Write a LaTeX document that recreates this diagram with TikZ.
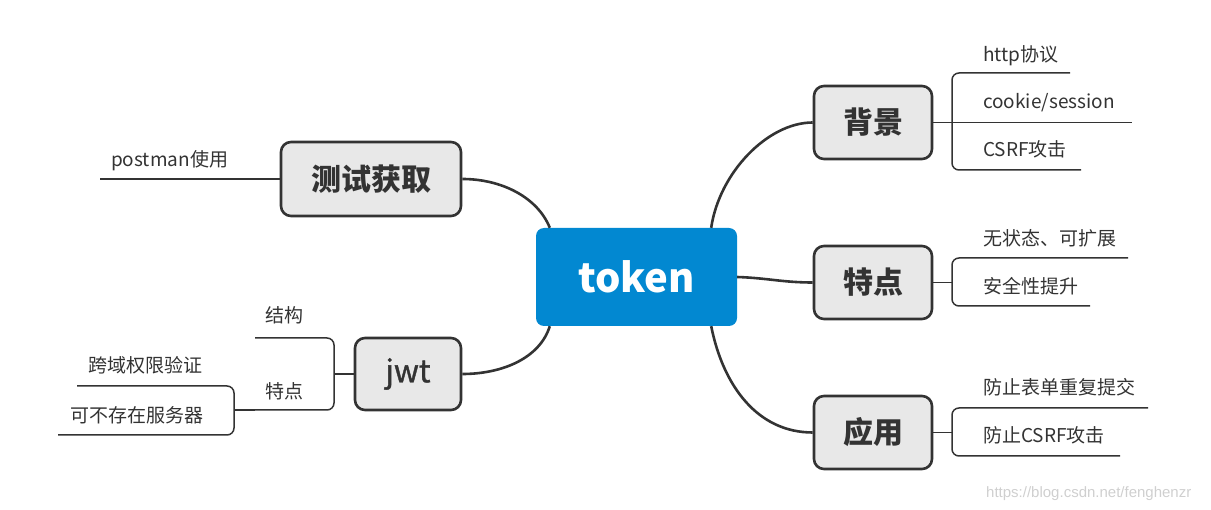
\documentclass[tikz,border=0pt]{standalone}
\usepackage{fontspec}
\setmainfont{Noto Sans CJK SC}
\newfontfamily\wmfont{Liberation Sans}
\newfontfamily\medfont[FakeBold=1.2]{Noto Sans CJK SC}
\definecolor{tokblue}{HTML}{0288D1}
\definecolor{topicfill}{HTML}{E8E8E8}
\definecolor{edgecol}{HTML}{333333}
\definecolor{leafcol}{HTML}{333333}
\definecolor{wmcol}{HTML}{CFCFCF}
\tikzset{
  central/.style={draw=none, fill=tokblue, rounded corners=8pt, minimum width=201pt, minimum height=98pt, text=white, font=\fontsize{40}{44}\selectfont\bfseries, inner sep=0pt},
  topic/.style={draw=edgecol, line width=2.6pt, fill=topicfill, rounded corners=10pt, text=edgecol, inner sep=0pt},
  topicbold/.style={topic, font=\fontsize{30}{34}\selectfont\bfseries},
  branch/.style={draw=edgecol, line width=2.6pt},
  leafline/.style={draw=leafcol, line width=1.5pt, rounded corners=7pt},
  leaf/.style={text=leafcol, font=\fontsize{19}{22}\selectfont, inner sep=0pt, anchor=base west},
  wm/.style={text=wmcol, font=\wmfont\fontsize{15}{17}\selectfont, inner sep=0pt, anchor=base west}
}
\begin{document}
\begin{tikzpicture}[x=1pt,y=-1pt]
\useasboundingbox (0,0) rectangle (1211,510);
% central
\node[central] (tok) at (636.5,277) {token};
% topics
\node[topicbold, minimum width=118pt, minimum height=73pt] (bg) at (873,122.5) {背景};
\node[topicbold, minimum width=118pt, minimum height=73pt] (td) at (873,282.5) {特点};
\node[topicbold, minimum width=118pt, minimum height=73pt] (yy) at (873,432.5) {应用};
\node[topicbold, minimum width=180pt, minimum height=74pt] (cs) at (371,179) {测试获取};
\node[topic, font=\medfont\fontsize{31}{34}\selectfont, minimum width=106pt, minimum height=72pt] (jwt) at (408,374) {jwt};
% branches
\draw[branch] ([xshift=-26pt]tok.north east) .. controls +(8,-55) and +(-45,0) .. (bg.west);
\draw[branch] (tok.east) .. controls +(30,1) and +(-30,0) .. (td.west);
\draw[branch] ([xshift=-26pt]tok.south east) .. controls +(12,60) and +(-55,0) .. (yy.west);
\draw[branch] ([xshift=14pt]tok.north west) .. controls +(-12,-30) and +(40,0) .. (cs.east);
\draw[branch] ([xshift=14pt]tok.south west) .. controls +(-10,32) and +(40,0) .. (jwt.east);
% background leaves
\node[leaf] (l11) at (983,62) {http协议};
\node[leaf] (l12) at (983,109) {cookie/session};
\node[leaf] (l13) at (983,157) {CSRF攻击};
\draw[leafline] (1070,73) -- (952,73) -- (952,170) -- (1081,170);
\draw[leafline, rounded corners=0pt] (bg.east) -- (1132,122.5);
% features leaves
\node[leaf] (l21) at (983,246) {无状态、可扩展};
\node[leaf] (l22) at (983,294) {安全性提升};
\draw[leafline] (1128,258) -- (952,258) -- (952,306) -- (1090,306);
\draw[leafline, rounded corners=0pt] (td.east) -- (952,282.5);
% application leaves
\node[leaf] (l31) at (983,395) {防止表单重复提交};
\node[leaf] (l32) at (983,443) {防止CSRF攻击};
\draw[leafline] (1148,408) -- (952,408) -- (952,456) -- (1120,456);
\draw[leafline, rounded corners=0pt] (yy.east) -- (952,432.5);
% test leaves
\node[leaf] (l41) at (111,167) {postman使用};
\draw[leafline, rounded corners=0pt] (cs.west) -- (100,179);
% jwt leaves
\node[leaf] (l51) at (265,323) {结构};
\node[leaf] (l52) at (265,399) {特点};
\draw[leafline] (255,338) -- (334,338) -- (334,410) -- (255,410);
\draw[leafline, rounded corners=0pt] (jwt.west) -- (334,374);
\node[leaf] (l61) at (88,373) {跨域权限验证};
\node[leaf] (l62) at (70,423) {可不存在服务器};
\draw[leafline] (77,386) -- (234,386) -- (234,435) -- (58,435);
\draw[leafline, rounded corners=0pt] (255,410) -- (234,410);
% watermark
\node[wm] (wmk) at (986,497) {https://blog.csdn.net/fenghenzr};
\end{tikzpicture}
\end{document}
